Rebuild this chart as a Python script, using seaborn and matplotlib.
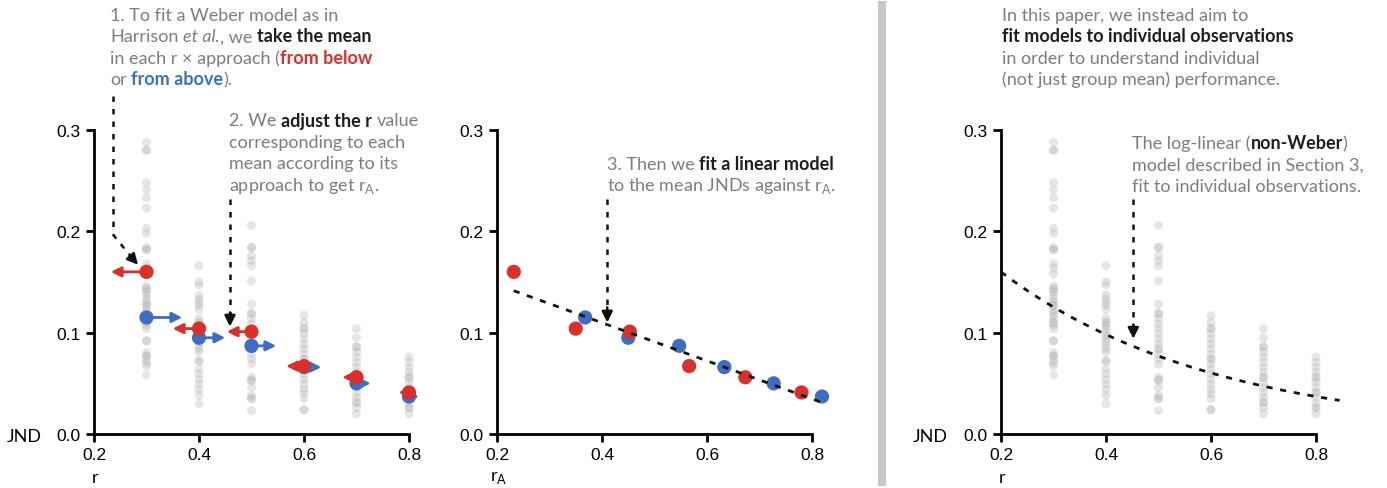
import numpy as np
import pandas as pd
import matplotlib
matplotlib.use("Agg")
import matplotlib.pyplot as plt
import seaborn as sns

# ---------------- data ----------------
r_levels = [0.3, 0.4, 0.5, 0.6, 0.7, 0.8]

obs_r03 = [0.288, 0.280, 0.280, 0.248, 0.241, 0.233, 0.223, 0.203, 0.198, 0.184, 0.182, 0.182,
           0.168, 0.164, 0.158, 0.146, 0.143, 0.143, 0.140, 0.137, 0.133, 0.130, 0.127, 0.127,
           0.123, 0.120, 0.117, 0.114, 0.110, 0.110, 0.107, 0.104, 0.092, 0.092, 0.080, 0.077,
           0.077, 0.073, 0.070, 0.067, 0.058]
obs_r04 = [0.166, 0.150, 0.147, 0.137, 0.133, 0.130, 0.127, 0.123, 0.114, 0.110, 0.110, 0.107,
           0.104, 0.100, 0.097, 0.094, 0.091, 0.087, 0.084, 0.081, 0.072, 0.072, 0.064, 0.059,
           0.054, 0.049, 0.044, 0.038, 0.030]
obs_r05 = [0.206, 0.184, 0.184, 0.176, 0.171, 0.166, 0.151, 0.128, 0.119, 0.119, 0.114, 0.109,
           0.104, 0.099, 0.094, 0.089, 0.084, 0.084, 0.079, 0.074, 0.069, 0.056, 0.053, 0.053,
           0.046, 0.038, 0.035, 0.035, 0.023]
obs_r06 = [0.117, 0.110, 0.104, 0.104, 0.099, 0.094, 0.089, 0.084, 0.079, 0.074, 0.074, 0.069,
           0.064, 0.059, 0.054, 0.049, 0.044, 0.040, 0.035, 0.024, 0.024]
obs_r07 = [0.104, 0.095, 0.086, 0.086, 0.081, 0.076, 0.071, 0.066, 0.061, 0.056, 0.056, 0.051,
           0.046, 0.041, 0.036, 0.031, 0.031, 0.026, 0.020]
obs_r08 = [0.076, 0.071, 0.066, 0.061, 0.056, 0.056, 0.051, 0.046, 0.041, 0.041, 0.036, 0.031,
           0.026, 0.026, 0.020]
observations = [obs_r03, obs_r04, obs_r05, obs_r06, obs_r07, obs_r08]

# group means per approach
mean_below = [0.160, 0.104, 0.101, 0.067, 0.056, 0.041]
mean_above = [0.115, 0.095, 0.087, 0.066, 0.050, 0.037]
# adjusted r (r_A) for each mean
rA_below = [0.232, 0.350, 0.453, 0.566, 0.673, 0.780]
rA_above = [0.368, 0.450, 0.547, 0.633, 0.727, 0.819]

# linear fit (mean JND vs r_A) and log-linear model parameters
lin_intercept, lin_slope = 0.185, -0.188
lin_range = [0.232, 0.819]
loglin_a, loglin_b = -1.345, -2.44
loglin_range = [0.2, 0.845]

# ---------------- style ----------------
RED = "#d8302b"
BLUE = "#3d6ec0"
TGREY = "#7d7d7d"
TDARK = "#1e1e1e"
DOT = "#b4b4b4"

sns.set_theme(style="white")
plt.rcParams["font.family"] = ["Liberation Sans", "DejaVu Sans"]
plt.rcParams["mathtext.fontset"] = "custom"
plt.rcParams["mathtext.rm"] = "Lato"

W, H = 1387, 489
fig = plt.figure(figsize=(W / 100, H / 100), dpi=100)

# axis geometry (pixels)
px_per_x = 525.0
y0_px, y3_px = 435, 131
xmax = 0.865


def make_ax(left_px):
    width = (xmax - 0.2) * px_per_x
    ax = fig.add_axes([left_px / W, (H - y0_px) / H, width / W, (y0_px - y3_px) / H])
    ax.set_xlim(0.2, xmax)
    ax.set_ylim(0, 0.3)
    ax.patch.set_alpha(0)
    for s in ["top", "right"]:
        ax.spines[s].set_visible(False)
    for s in ["left", "bottom"]:
        ax.spines[s].set_color("black")
        ax.spines[s].set_linewidth(2)
    ax.spines["bottom"].set_bounds(0.2, 0.8)
    ax.set_xticks([0.2, 0.4, 0.6, 0.8])
    ax.set_xticklabels(["0.2", "0.4", "0.6", "0.8"])
    ax.set_yticks([0.0, 0.1, 0.2, 0.3])
    ax.set_yticklabels(["0.0", "0.1", "0.2", "0.3"])
    ax.tick_params(axis="both", which="both", direction="out", length=6, width=2,
                   color="black", labelsize=12.5, labelcolor="black", pad=3.5,
                   left=True, bottom=True)
    ax.set_xlabel("")
    ax.set_ylabel("")
    return ax


ax1 = make_ax(94)
ax2 = make_ax(497)
ax3 = make_ax(1001)

obs_df = pd.DataFrame({
    "r": np.concatenate([[r] * len(o) for r, o in zip(r_levels, observations)]),
    "jnd": np.concatenate(observations),
})

for ax in (ax1, ax3):
    sns.scatterplot(data=obs_df, x="r", y="jnd", ax=ax, color=DOT, alpha=0.32,
                    s=42, edgecolor="none", legend=False, zorder=2)
    ax.set_xlabel("")
    ax.set_ylabel("")

means_df = pd.DataFrame({
    "r": r_levels + r_levels,
    "rA": rA_above + rA_below,
    "jnd": mean_above + mean_below,
    "approach": ["above"] * 6 + ["below"] * 6,
})
pal = {"below": RED, "above": BLUE}

# left panel: means with arrows to r_A
sns.scatterplot(data=means_df[means_df.approach == "above"], x="r", y="jnd", color=BLUE,
                ax=ax1, s=105, edgecolor="none", legend=False, zorder=3)
for r, m, ra in zip(r_levels, mean_above, rA_above):
    ax1.annotate("", xy=(ra, m), xytext=(r, m),
                 arrowprops=dict(arrowstyle="-|>", color=BLUE, lw=2, shrinkA=0, shrinkB=0,
                                 mutation_scale=15), zorder=3.5)
sns.scatterplot(data=means_df[means_df.approach == "below"], x="r", y="jnd", color=RED,
                ax=ax1, s=105, edgecolor="none", legend=False, zorder=4)
for r, m, ra in zip(r_levels, mean_below, rA_below):
    ax1.annotate("", xy=(ra, m), xytext=(r, m),
                 arrowprops=dict(arrowstyle="-|>", color=RED, lw=2, shrinkA=0, shrinkB=0,
                                 mutation_scale=15), zorder=4.5)
ax1.set_xlabel("")
ax1.set_ylabel("")

# middle panel
sns.scatterplot(data=means_df, x="rA", y="jnd", hue="approach", palette=pal, ax=ax2,
                s=105, edgecolor="none", legend=False, zorder=3)
lin_x = np.linspace(lin_range[0], lin_range[1], 50)
lin_df = pd.DataFrame({"x": lin_x, "y": lin_intercept + lin_slope * lin_x})
sns.lineplot(data=lin_df, x="x", y="y", ax=ax2, color="#111111", lw=2,
             linestyle=(0, (2.2, 2.8)), zorder=4)
ax2.set_xlabel("")
ax2.set_ylabel("")

# right panel
ll_x = np.linspace(loglin_range[0], loglin_range[1], 100)
ll_df = pd.DataFrame({"x": ll_x, "y": np.exp(loglin_a + loglin_b * ll_x)})
sns.lineplot(data=ll_df, x="x", y="y", ax=ax3, color="#111111", lw=2,
             linestyle=(0, (2.2, 2.8)), zorder=4)
ax3.set_xlabel("")
ax3.set_ylabel("")

for ax in (ax1, ax2, ax3):
    for c in ax.collections:
        c.set_clip_on(False)
    for l in ax.lines:
        l.set_clip_on(False)

# axis labels
lab_font = dict(fontsize=13, color="black", family=["Lato", "DejaVu Sans"])
fig.text(7 / W, 1 - 437 / H, "JND", ha="left", va="center", **lab_font)
fig.text(913 / W, 1 - 437 / H, "JND", ha="left", va="center", **lab_font)
fig.text(95 / W, 1 - 478 / H, "r", ha="center", va="center", **lab_font)
fig.text(1002 / W, 1 - 478 / H, "r", ha="center", va="center", **lab_font)
fig.text(499 / W, 1 - 478 / H, r"r$_{\mathregular{A}}$", ha="center", va="center", **lab_font)

# separator bar
fig.add_artist(plt.Rectangle((878 / W, 2 / H), 8 / W, 485 / H, transform=fig.transFigure,
                             color="#c8c8ca", lw=0))

# ---------------- rich annotations ----------------
fig.canvas.draw()
renderer = fig.canvas.get_renderer()
TXT_SIZE = 13
FAM = ["Lato", "DejaVu Sans"]


def text_width(s, **kw):
    t = fig.text(0, 0, s, fontsize=TXT_SIZE, family=FAM, **kw)
    w = t.get_window_extent(renderer).width
    t.remove()
    return w


SPACE = text_width("a a") - text_width("aa")


def rich_line(x_px, y_px, segs):
    x = x_px
    for s, kind in segs:
        lead = len(s) - len(s.lstrip(" "))
        trail = len(s) - len(s.rstrip(" "))
        core = s.strip(" ")
        x += lead * SPACE
        kw = {}
        color = TGREY
        if kind == "b":
            kw["fontweight"] = "bold"; color = TDARK
        elif kind == "i":
            kw["style"] = "italic"
        elif kind == "red":
            kw["fontweight"] = "bold"; color = RED
        elif kind == "blue":
            kw["fontweight"] = "bold"; color = BLUE
        if core:
            t = fig.text(x / W, 1 - y_px / H, core, fontsize=TXT_SIZE, family=FAM,
                         color=color, ha="left", va="baseline", **kw)
            x = t.get_window_extent(renderer).x1
        x += trail * SPACE


def block(x_px, y_px, lines, dy=21.4):
    for i, segs in enumerate(lines):
        rich_line(x_px, y_px + i * dy, segs)


block(110, 21, [
    [("1. To fit a Weber model as in", "n")],
    [("Harrison ", "n"), ("et al.", "i"), (", we ", "n"), ("take the mean", "b")],
    [("in each r × approach (", "n"), ("from below", "red")],
    [("or ", "n"), ("from above", "blue"), (").", "n")],
])
block(229, 126.5, [
    [("2. We ", "n"), ("adjust the r", "b"), (" value", "n")],
    [("corresponding to each", "n")],
    [("mean according to its", "n")],
    [("approach to get r$_{\\mathregular{A}}$.", "n")],
])
block(607, 170, [
    [("3. Then we ", "n"), ("fit a linear model", "b")],
    [("to the mean JNDs against r$_{\\mathregular{A}}$.", "n")],
])
block(1002, 21, [
    [("In this paper, we instead aim to", "n")],
    [("fit models to individual observations", "b")],
    [("in order to understand individual", "n")],
    [("(not just group mean) performance.", "n")],
])
block(1132, 149, [
    [("The log-linear (", "n"), ("non-Weber", "b"), (")", "n")],
    [("model described in Section 3,", "n")],
    [("fit to individual observations.", "n")],
])

# ---------------- pointer arrows ----------------
dash = (0, (2.2, 2.8))
arrow_kw = dict(arrowstyle="-|>", color="#111111", lw=1.8, linestyle="-",
                shrinkA=0, shrinkB=0, mutation_scale=16)

# arrow 1 (left): vertical then bend
ax1.plot([0.236, 0.236], [0.334, 0.197], color="#111111", lw=1.8, linestyle=dash, clip_on=False)
ax1.plot([0.236, 0.272], [0.197, 0.174], color="#111111", lw=1.8, linestyle=dash, clip_on=False)
ax1.annotate("", xy=(0.284, 0.167), xytext=(0.272, 0.174), arrowprops=arrow_kw,
             annotation_clip=False)
# arrow 2 (left)
ax1.plot([0.459, 0.459], [0.232, 0.118], color="#111111", lw=1.8, linestyle=dash, clip_on=False)
ax1.annotate("", xy=(0.459, 0.106), xytext=(0.459, 0.12), arrowprops=arrow_kw,
             annotation_clip=False)
# arrow 3 (middle)
ax2.plot([0.41, 0.41], [0.232, 0.123], color="#111111", lw=1.8, linestyle=dash, clip_on=False)
ax2.annotate("", xy=(0.41, 0.110), xytext=(0.41, 0.125), arrowprops=arrow_kw,
             annotation_clip=False)
# arrow 4 (right)
ax3.plot([0.452, 0.452], [0.232, 0.106], color="#111111", lw=1.8, linestyle=dash, clip_on=False)
ax3.annotate("", xy=(0.452, 0.094), xytext=(0.452, 0.108), arrowprops=arrow_kw,
             annotation_clip=False)

fig.savefig("out.png", dpi=100)
